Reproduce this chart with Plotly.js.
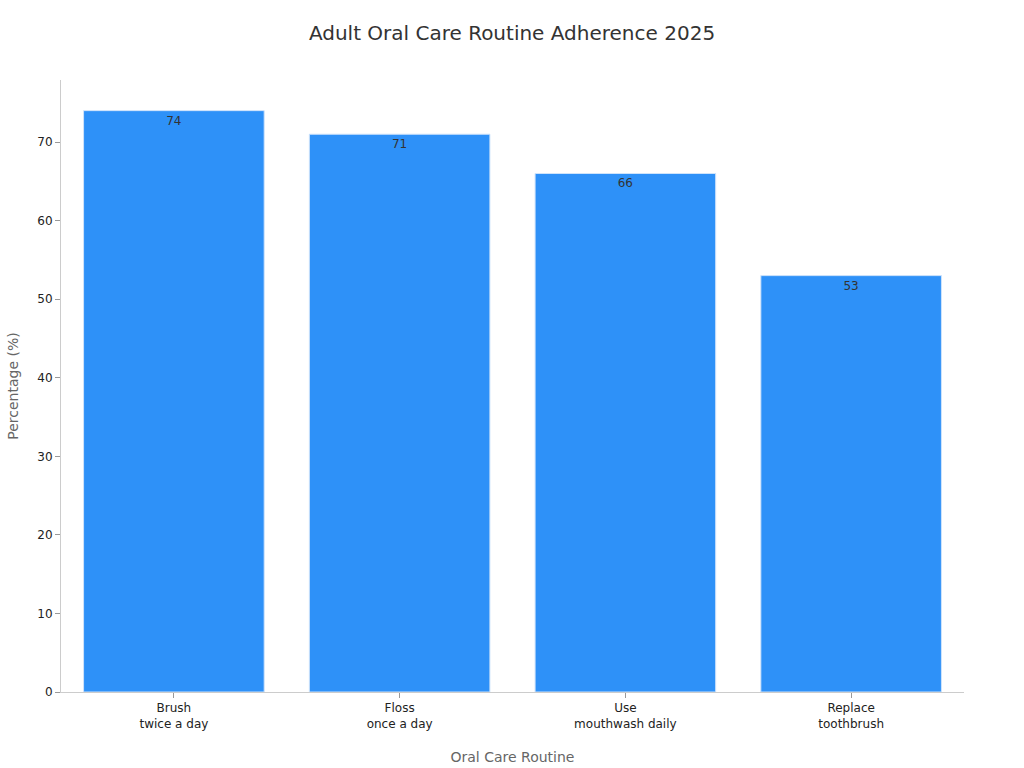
<!DOCTYPE html>
<html>
<head>
<meta charset="utf-8">
<script src="https://cdn.plot.ly/plotly-3.0.1.min.js"></script>
<style>
  html, body { margin: 0; padding: 0; background: #ffffff; }
  #chart { width: 1024px; height: 768px; }
</style>
</head>
<body>
<div id="chart"></div>
<script>
const FONT_FAMILY = "DejaVu Sans, sans-serif";
const categories = [
  "Brush<br>twice a day",
  "Floss<br>once a day",
  "Use<br>mouthwash daily",
  "Replace<br>toothbrush",
];
const adherence = [74, 71, 66, 53];

const trace = {
  type: "bar",
  x: categories,
  y: adherence,
  text: adherence.map(String),
  textposition: "inside",
  insidetextanchor: "end",
  textfont: { family: FONT_FAMILY, size: 12, color: "#333333" },
  marker: {
    color: "#2e91f8",
    line: { color: "#cfe3fb", width: 1 },
  },
  hoverinfo: "skip",
};

const layout = {
  width: 1024,
  height: 768,
  margin: { l: 61, r: 60, t: 80, b: 76 },
  paper_bgcolor: "#ffffff",
  plot_bgcolor: "#ffffff",
  font: { family: FONT_FAMILY, color: "#333333", size: 12 },
  title: {
    text: "Adult Oral Care Routine Adherence 2025",
    font: { family: FONT_FAMILY, size: 20, color: "#333333" },
    x: 0.5,
    y: 0.957,
    yanchor: "middle",
  },
  bargap: 0.2,
  showlegend: false,
  xaxis: {
    title: {
      text: "Oral Care Routine",
      font: { family: FONT_FAMILY, size: 14, color: "#666666" },
      standoff: 22,
    },
    showline: true,
    linecolor: "#cccccc",
    ticks: "outside",
    tickcolor: "#999999",
    ticklen: 5,
    showgrid: false,
    tickfont: { size: 12, color: "#222222" },
  },
  yaxis: {
    title: {
      text: "Percentage (%)",
      font: { family: FONT_FAMILY, size: 14, color: "#666666" },
      standoff: 15,
    },
    range: [0, 77.9],
    dtick: 10,
    showline: true,
    linecolor: "#cccccc",
    ticks: "outside",
    tickcolor: "#999999",
    ticklen: 5,
    showgrid: false,
    zeroline: false,
    tickfont: { size: 12, color: "#222222" },
  },
};

Plotly.newPlot("chart", [trace], layout, { displayModeBar: false, responsive: false });
</script>
</body>
</html>
